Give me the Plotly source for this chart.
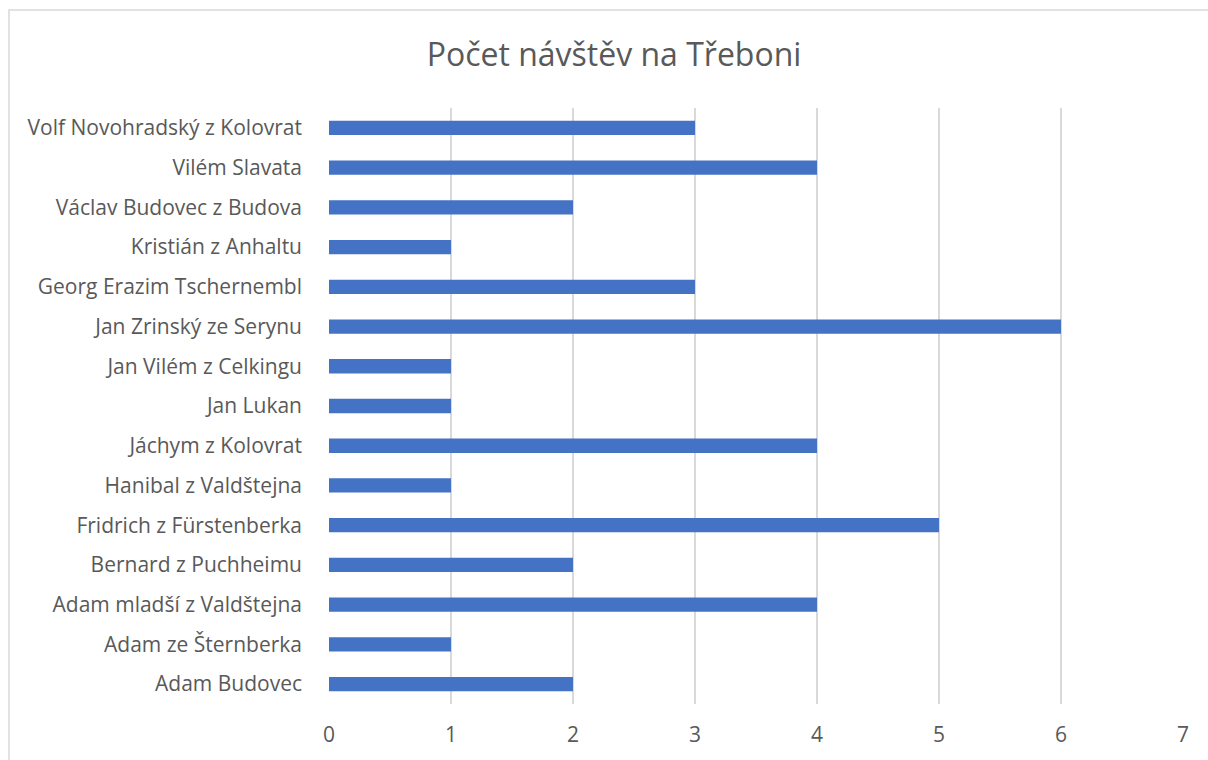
import plotly.graph_objects as go

# Kategorie (odspodu nahoru) a počty návštěv
jmena = [
    "Adam Budovec",
    "Adam ze Šternberka",
    "Adam mladší z Valdštejna",
    "Bernard z Puchheimu",
    "Fridrich z Fürstenberka",
    "Hanibal z Valdštejna",
    "Jáchym z Kolovrat",
    "Jan Lukan",
    "Jan Vilém z Celkingu",
    "Jan Zrinský ze Serynu",
    "Georg Erazim Tschernembl",
    "Kristián z Anhaltu",
    "Václav Budovec z Budova",
    "Vilém Slavata",
    "Volf Novohradský z Kolovrat",
]
navstevy = [2, 1, 4, 2, 5, 1, 4, 1, 1, 6, 3, 1, 2, 4, 3]
x_ticks = [0, 1, 2, 3, 4, 5, 6, 7]

W, H = 1208, 760
L, R, T, B = 329, 25, 108, 56
pw, ph = W - L - R, H - T - B

fig = go.Figure()
fig.add_trace(go.Bar(
    x=navstevy,
    y=jmena,
    orientation="h",
    marker=dict(color="#4472C4", line=dict(width=0)),
    hoverinfo="x+y",
))

# rámeček grafu
def px_x(p):
    return (p - L) / pw

def px_y(p):
    return (H - B - p) / ph

fig.add_shape(
    type="rect", xref="paper", yref="paper",
    x0=px_x(9), x1=px_x(1230), y0=px_y(10), y1=px_y(775),
    line=dict(color="#d9d9d9", width=1.5),
    fillcolor="rgba(0,0,0,0)", layer="below",
)

fig.update_layout(
    width=W, height=H,
    margin=dict(l=L, r=R, t=T, b=B),
    paper_bgcolor="white",
    plot_bgcolor="white",
    bargap=0.64,
    showlegend=False,
    font=dict(family="Open Sans, sans-serif", size=21, color="#595959"),
    title=dict(
        text="Počet návštěv na Třeboni",
        x=614 / W, xanchor="center",
        y=1 - 55 / H, yanchor="middle",
        font=dict(size=32, color="#595959", family="Open Sans, sans-serif"),
    ),
    xaxis=dict(
        range=[0, 7],
        tickvals=x_ticks,
        showgrid=True,
        gridcolor="#d9d9d9",
        gridwidth=1.5,
        zeroline=False,
        showline=False,
        ticks="",
        ticklabelstandoff=16,
        fixedrange=True,
    ),
    yaxis=dict(
        categoryorder="array",
        categoryarray=jmena,
        showgrid=False,
        zeroline=False,
        showline=False,
        ticks="",
        ticklabelstandoff=26,
        fixedrange=True,
    ),
)

fig.write_html(
    "out.html",
    config={"displayModeBar": False},
    post_script="document.body.style.margin='0';document.body.style.overflow='hidden';",
)
